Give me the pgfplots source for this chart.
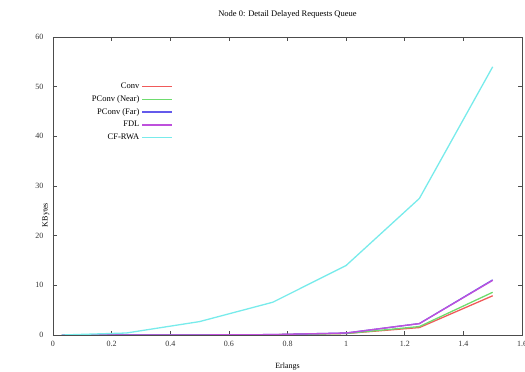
\documentclass[border=0pt]{standalone}
\usepackage{pgfplots}
\pgfplotsset{compat=1.18}
\usepackage{fontspec}
\setmainfont{Liberation Serif}
\definecolor{cconv}{RGB}{240,90,90}
\definecolor{cnear}{RGB}{110,220,110}
\definecolor{cfar}{RGB}{100,90,235}
\definecolor{cfdl}{RGB}{190,80,220}
\definecolor{crwa}{RGB}{120,235,235}
\begin{document}
\begin{tikzpicture}
\begin{axis}[
  scale only axis, width=469pt, height=298pt,
  xmin=0, xmax=1.6, ymin=0, ymax=60,
  xtick={0,0.2,...,1.6}, ytick={0,10,...,60},
  tick align=inside, major tick length=4pt,
  tick style={black!70, line width=0.6pt},
  axis line style={black!70, line width=0.8pt},
  /pgf/number format/assume math mode=true,
  /pgf/number format/fixed,
  ticklabel style={font=\fontsize{8}{9}\selectfont, text=black!80},
  xticklabel style={yshift=-3pt},
  yticklabel style={xshift=-6pt},
  title={Node 0: Detail Delayed Requests Queue},
  title style={font=\fontsize{8.5}{10}\selectfont, at={(0.5,1)}, yshift=9pt, anchor=south},
  xlabel={Erlangs}, ylabel={KBytes},
  xlabel style={font=\fontsize{8}{9}\selectfont, at={(0.5,0)}, anchor=north, yshift=-24pt},
  ylabel style={font=\fontsize{8}{9}\selectfont, at={(0,0.5)}, anchor=south, xshift=-29pt, rotate=0},
  legend plot pos=right,
  legend cell align=right,
  legend image code/.code={\draw[#1] (0pt,0pt) -- (30pt,0pt);},
  legend style={draw=none, fill=none, font=\fontsize{8.5}{10}\selectfont,
    at={(0.262,0.86)}, anchor=north east, row sep=1.5pt},
  every axis plot/.append style={line width=1.3pt},
]
\coordinate (sw) at (rel axis cs:0,0);
\coordinate (ne) at (rel axis cs:1,1);
\addplot[cconv] coordinates {(0.03,0) (0.25,0) (0.5,0.01) (0.75,0.05) (1.0,0.3) (1.25,1.5) (1.5,7.9)};
\addlegendentry{Conv}
\addplot[cnear] coordinates {(0.03,0) (0.25,0) (0.5,0.01) (0.75,0.05) (1.0,0.3) (1.25,1.7) (1.5,8.6)};
\addlegendentry{PConv (Near)}
\addplot[cfar] coordinates {(0.03,0) (0.25,0) (0.5,0.01) (0.75,0.08) (1.0,0.4) (1.25,2.3) (1.5,11.1)};
\addlegendentry{PConv (Far)}
\addplot[cfdl] coordinates {(0.03,0) (0.25,0) (0.5,0.01) (0.75,0.08) (1.0,0.4) (1.25,2.3) (1.5,11.0)};
\addlegendentry{FDL}
\addplot[crwa] coordinates {(0.03,0) (0.25,0.4) (0.5,2.7) (0.75,6.6) (1.0,14.0) (1.25,27.5) (1.5,54.0)};
\addlegendentry{CF-RWA}
\end{axis}
\pgfresetboundingbox
\path[use as bounding box] ([xshift=-53pt,yshift=-37pt]sw) rectangle ([xshift=3pt,yshift=37pt]ne);
\end{tikzpicture}
\end{document}
